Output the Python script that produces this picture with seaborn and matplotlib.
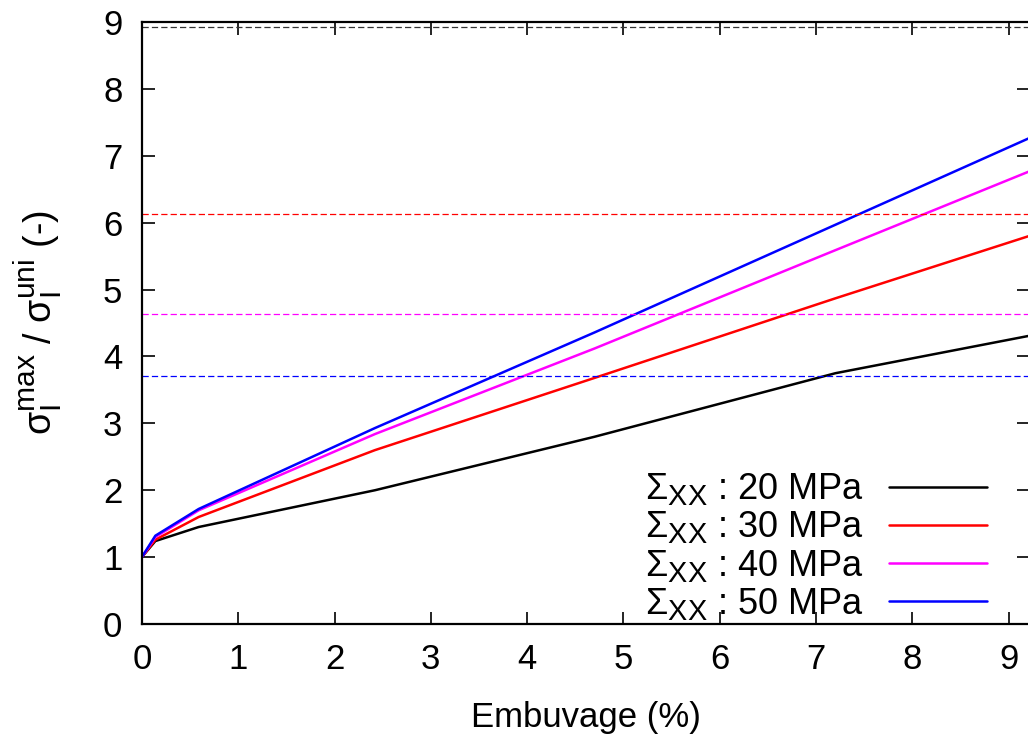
import numpy as np
import pandas as pd
import matplotlib
matplotlib.use("Agg")
import matplotlib.pyplot as plt
import matplotlib._mathtext as _mt
import seaborn as sns

# ---- data ----
embuvage = [0.0, 0.14, 0.59, 2.42, 4.70, 7.20, 9.25]
ratio_20 = [1.0, 1.24, 1.45, 2.00, 2.80, 3.75, 4.32]
ratio_30 = [1.0, 1.26, 1.60, 2.60, 3.68, 4.87, 5.82]
ratio_40 = [1.0, 1.30, 1.70, 2.84, 4.12, 5.59, 6.79]
ratio_50 = [1.0, 1.32, 1.72, 2.93, 4.36, 5.97, 7.29]
series_labels = ["20 MPa", "30 MPa", "40 MPa", "50 MPa"]
series_colors = ["#000000", "#ff0000", "#ff00ff", "#0000ff"]
limit_values = [8.93, 6.13, 4.63, 3.71]
x_ticks = [0, 1, 2, 3, 4, 5, 6, 7, 8, 9]
y_ticks = [0, 1, 2, 3, 4, 5, 6, 7, 8, 9]

sns.set_style("ticks")
plt.rcParams["font.family"] = ["Liberation Sans", "DejaVu Sans"]
plt.rcParams["mathtext.fontset"] = "custom"
plt.rcParams["mathtext.rm"] = "Liberation Sans"
plt.rcParams["mathtext.it"] = "Liberation Sans"
plt.rcParams["mathtext.bf"] = "Liberation Sans:bold"
plt.rcParams["text.color"] = "black"
plt.rcParams["axes.labelcolor"] = "black"
_mt.SHRINK_FACTOR = 0.8  # gnuplot-like larger sub/superscripts

fig = plt.figure(figsize=(10.28, 7.38), dpi=100)
ax = fig.add_axes([0.138, 0.1545, 1.001 - 0.138, 0.970 - 0.1545])

rows = []
for lab, vals in zip(series_labels, [ratio_20, ratio_30, ratio_40, ratio_50]):
    for x, y in zip(embuvage, vals):
        rows.append({"Embuvage": x, "ratio": y, "serie": lab})
df = pd.DataFrame(rows)

for lab, col in zip(series_labels, series_colors):
    sub = df[df["serie"] == lab]
    sns.lineplot(data=sub, x="Embuvage", y="ratio", ax=ax, color=col,
                 linewidth=1.8, label=r"$\mathrm{\Sigma_{XX}}$ : " + lab,
                 estimator=None, sort=False)

for val, col in zip(limit_values, series_colors):
    ax.axhline(val, color=col if col != "#000000" else "#333333",
               linestyle=(0, (5, 2.5)), linewidth=0.9)

ax.set_xlim(0, 9.21)
ax.set_ylim(0, 9)
ax.set_xticks(x_ticks)
ax.set_yticks(y_ticks)
ax.tick_params(direction="in", length=9, width=1.2, top=True, right=True,
               labelsize=25, pad=14, colors="black")
for s in ax.spines.values():
    s.set_linewidth(1.6)
    s.set_color("black")
    s.set_visible(True)

ax.set_xlabel("Embuvage (%)", fontsize=25, labelpad=18)
ax.set_ylabel(r"$\mathrm{\sigma_I^{max}}$ / $\mathrm{\sigma_I^{uni}}$ (-)",
              fontsize=27, labelpad=28)

leg = ax.legend(loc="center right", bbox_to_anchor=(0.9526, 0.1288),
                frameon=False, fontsize=26, markerfirst=False,
                handlelength=2.7, handletextpad=0.7, labelspacing=0.06,
                borderpad=0, borderaxespad=0)

fig.savefig("out.png", dpi=100)
